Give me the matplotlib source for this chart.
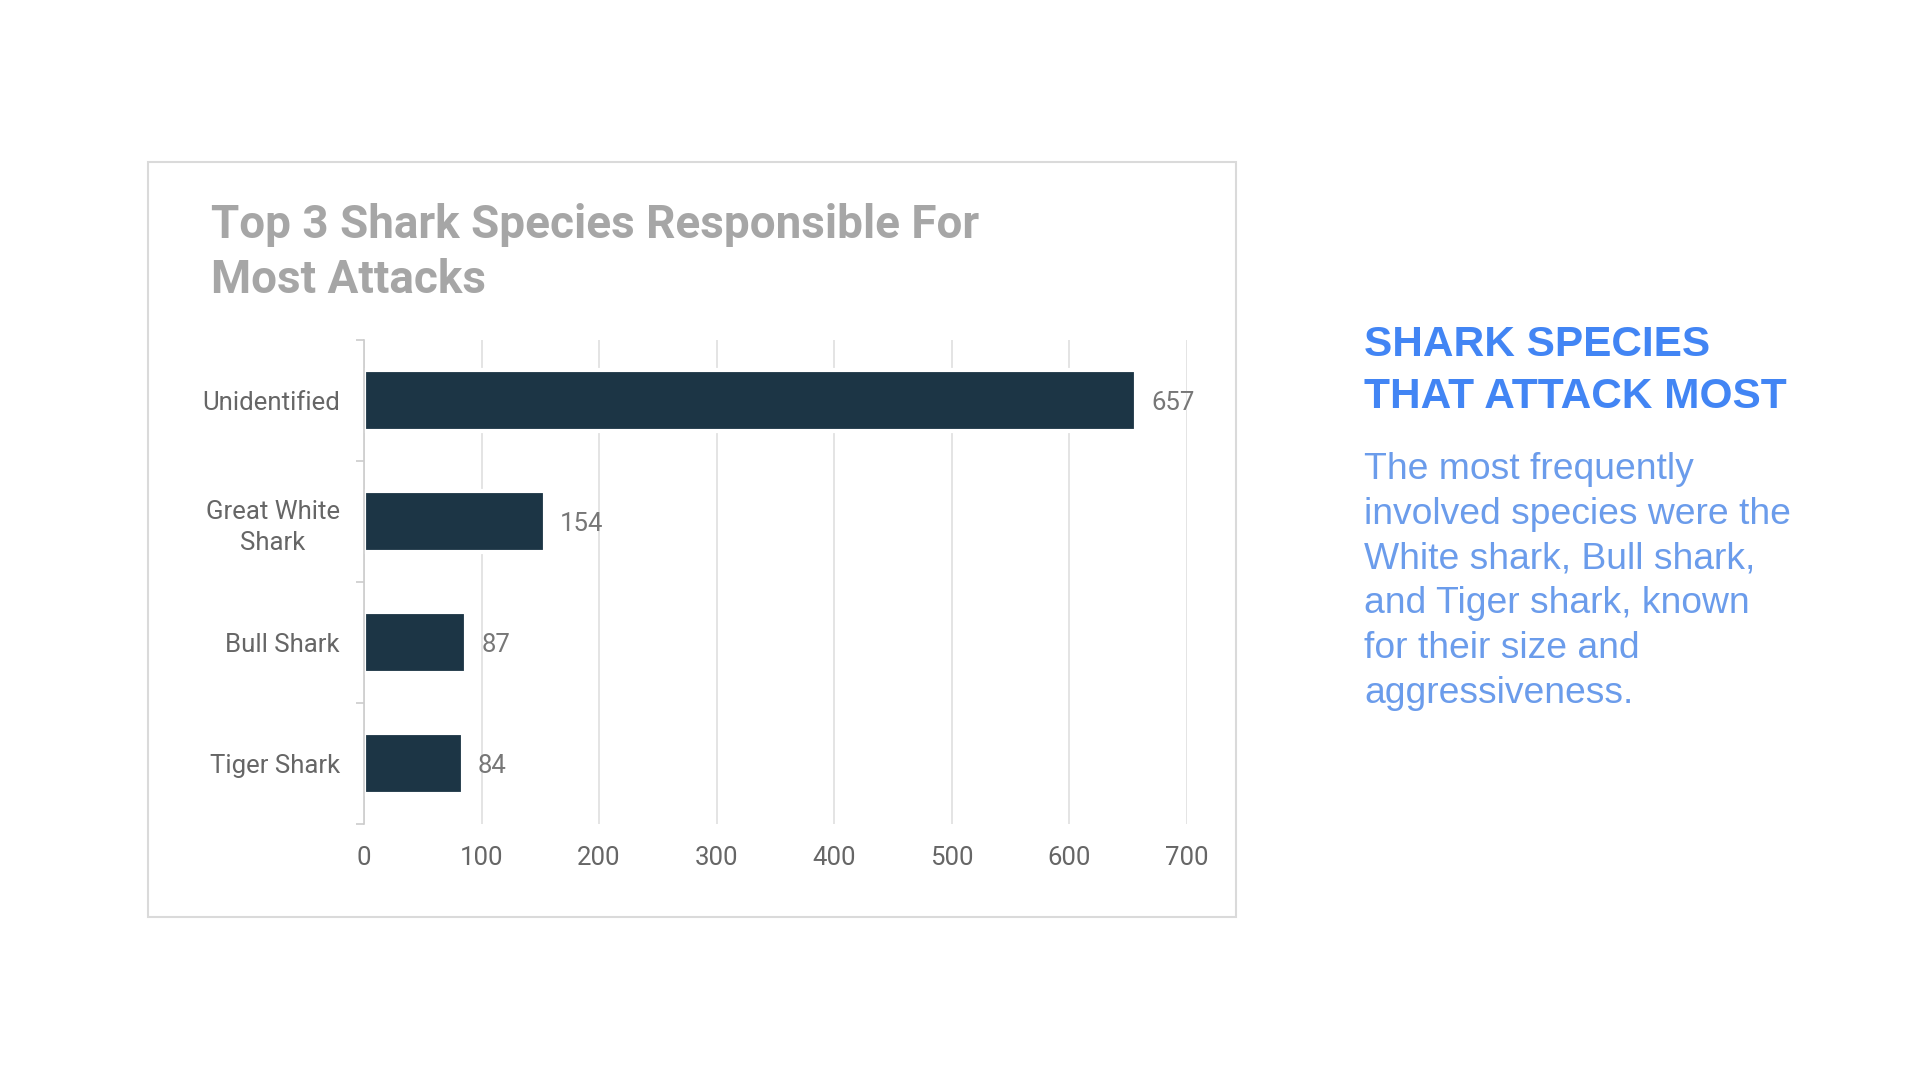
import matplotlib
matplotlib.use("Agg")
import matplotlib.pyplot as plt
from matplotlib.patches import Rectangle
from matplotlib.ticker import FixedLocator

# ---- data ----
categories = ["Unidentified", "Great White\nShark", "Bull Shark", "Tiger Shark"]
attacks = [657, 154, 87, 84]
x_ticks = [0, 100, 200, 300, 400, 500, 600, 700]
chart_title = ["Top 3 Shark Species Responsible For", "Most Attacks"]
side_heading = ["SHARK SPECIES", "THAT ATTACK MOST"]
side_body = ["The most frequently", "involved species were the",
             "White shark, Bull shark,", "and Tiger shark, known",
             "for their size and", "aggressiveness."]

W, H = 1920, 1080
fig = plt.figure(figsize=(19.2, 10.8), dpi=100)
fig.patch.set_facecolor("white")

def fx(px):
    return px / W

def fy(py):
    return 1 - py / H

# card frame
fig.patches.append(Rectangle((fx(148), fy(917)), fx(1236) - fx(148), fy(162) - fy(917),
                             transform=fig.transFigure, facecolor="none",
                             edgecolor="#DADADA", linewidth=1.5, zorder=-5))

ax = fig.add_axes([fx(364), fy(824), fx(1186.6) - fx(364), fy(340) - fy(824)])
ax.set_facecolor("none")
ax.set_zorder(2)
ypos = list(range(len(categories)))
bars = ax.barh(ypos, attacks, height=0.5, color="#1C3545", edgecolor="white",
               linewidth=3, zorder=3)
ax.set_xlim(0, 700)
ax.set_ylim(len(categories) - 0.5, -0.5)

ax.set_xticks(x_ticks)
ax.set_xticklabels([str(t) for t in x_ticks])
ax.set_yticks(ypos)
ax.set_yticklabels(categories)
ax.yaxis.set_minor_locator(FixedLocator([i - 0.5 for i in range(len(categories) + 1)]))

ax.tick_params(axis="x", length=0, pad=16, labelsize=18.5, labelcolor="#666666")
ax.tick_params(axis="y", which="major", length=0, pad=17.5, labelsize=18.5, labelcolor="#666666")
ax.tick_params(axis="y", which="minor", length=6, width=1.2, color="#CCCCCC")
for lbl in ax.get_xticklabels() + ax.get_yticklabels():
    lbl.set_fontfamily("Roboto")
for lbl in ax.get_yticklabels():
    lbl.set_multialignment("center")
    lbl.set_linespacing(1.35)
    lbl.set_y(lbl.get_position()[1])

ax.grid(axis="x", color="#E2E2E2", linewidth=1.3, zorder=0)
ax.set_axisbelow(True)
for s in ["top", "right", "bottom"]:
    ax.spines[s].set_visible(False)
ax.spines["left"].set_color("#CCCCCC")
ax.spines["left"].set_linewidth(1.2)
ax.spines["left"].set_zorder(4)

for y, v in zip(ypos, attacks):
    ax.annotate(str(v), xy=(v, y), xytext=(11, -1.5), textcoords="offset points",
                ha="left", va="center", fontsize=18.5, color="#777777",
                fontfamily="Roboto", zorder=5)

# chart title
for txt, base in zip(chart_title, [238, 293]):
    fig.text(fx(211), fy(base), txt, ha="left", va="baseline", fontsize=33,
             fontweight="bold", color="#A6A6A6", fontfamily="Roboto")

# side text
for txt, base in zip(side_heading, [356, 408]):
    fig.text(fx(1364), fy(base), txt, ha="left", va="baseline", fontsize=30.5,
             fontweight="bold", color="#4285F4", fontfamily="Liberation Sans")
for i, txt in enumerate(side_body):
    fig.text(fx(1364), fy(479 + i * 44.8), txt, ha="left", va="baseline", fontsize=26.8,
             color="#6B9CEB", fontfamily="Liberation Sans")

fig.savefig("out.png", dpi=100, facecolor="white")
